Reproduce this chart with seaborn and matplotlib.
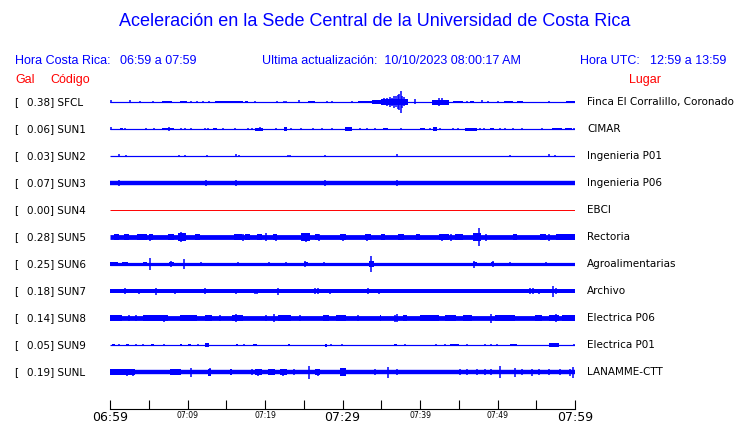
import pandas as pd
import matplotlib
matplotlib.use('Agg')
import matplotlib.pyplot as plt
import seaborn as sns

# ---------- DATOS ----------
gal = [0.38, 0.06, 0.03, 0.07, 0.00, 0.28, 0.25, 0.18, 0.14, 0.05, 0.19]
codigos = ['SFCL', 'SUN1', 'SUN2', 'SUN3', 'SUN4', 'SUN5', 'SUN6', 'SUN7', 'SUN8', 'SUN9', 'SUNL']
lugares = ['Finca El Corralillo, Coronado', 'CIMAR', 'Ingenieria P01', 'Ingenieria P06', 'EBCI',
           'Rectoria', 'Agroalimentarias', 'Archivo', 'Electrica P06', 'Electrica P01', 'LANAMME-CTT']

# media amplitud del ruido de fondo de cada traza (px)
ruido = [0.6, 0.6, 0.6, 2.2, 0.4, 2.4, 1.6, 2.0, 2.4, 0.6, 2.2]

# rafagas: (minuto inicio, minuto fin, media amplitud)
rafagas = {
    'SFCL': [(6.7, 8.0, 1.3), (9.0, 9.9, 1.3), (13.5, 17.1, 1.3), (17.4, 17.8, 1.0), (25.6, 26.5, 1.3),
             (32.0, 33.8, 1.3), (33.8, 35.0, 2.0), (35.0, 38.5, 3.0), (41.5, 43.7, 2.5), (44.3, 45.6, 1.0),
             (46.5, 47.0, 1.3), (50.8, 52.0, 1.3), (52.5, 53.3, 1.2), (58.9, 60.0, 1.3)],
    'SUN1': [(1.3, 1.7, 1.3), (6.7, 8.2, 1.2), (13.3, 13.8, 1.3), (18.7, 19.8, 1.5), (22.4, 22.9, 1.7),
             (30.3, 31.2, 1.8), (35.2, 35.9, 1.3), (40.0, 40.6, 1.3), (41.7, 42.2, 2.0), (45.8, 47.3, 1.5),
             (49.0, 49.5, 1.3), (57.0, 58.3, 1.3), (58.7, 59.6, 1.3)],
    'SUN2': [],
    'SUN3': [],
    'SUN4': [],
    'SUN5': [(0.5, 1.2, 3.0), (1.8, 2.5, 3.0), (3.5, 4.8, 3.0), (5.0, 5.6, 3.0), (7.5, 8.3, 3.0),
             (8.8, 9.8, 3.8), (11.0, 11.6, 3.0), (16.0, 17.0, 3.0), (17.4, 18.0, 3.0), (19.0, 19.6, 3.0),
             (21.0, 21.5, 3.0), (24.6, 25.8, 3.8), (26.5, 27.0, 3.0), (29.7, 30.4, 3.0), (32.9, 33.7, 3.0),
             (35.0, 35.5, 3.0), (37.1, 38.0, 3.0), (39.5, 40.0, 3.0), (42.4, 43.8, 3.0), (44.5, 45.6, 3.0),
             (46.9, 47.9, 4.0), (52.0, 52.5, 3.0), (55.5, 56.2, 3.0), (57.5, 60.0, 3.0)],
    'SUN6': [(0.0, 1.0, 2.0), (1.5, 2.3, 2.0), (4.2, 4.8, 1.8), (7.6, 8.2, 2.2), (25.0, 25.5, 2.2),
             (33.4, 34.0, 2.6), (46.8, 47.3, 2.2), (49.2, 49.6, 2.2)],
    'SUN7': [],
    'SUN8': [(0.0, 1.5, 3.3), (4.3, 7.5, 3.0), (9.0, 11.2, 3.0), (12.3, 13.1, 3.4), (15.7, 17.2, 3.2),
             (21.7, 23.4, 3.0), (27.5, 28.2, 3.3), (29.2, 30.5, 3.0), (34.8, 35.0, 3.2), (37.8, 38.3, 3.2),
             (40.0, 42.4, 3.0), (43.2, 44.7, 3.0), (45.6, 46.7, 3.4), (49.7, 52.3, 3.0), (54.8, 55.7, 3.0),
             (56.6, 57.9, 3.2), (58.3, 60.0, 3.2)],
    'SUN9': [(0.2, 0.6, 1.3), (2.0, 2.5, 1.3), (5.3, 5.7, 1.3), (9.0, 9.3, 1.2), (10.0, 10.5, 1.2),
             (12.3, 12.8, 1.8), (16.3, 16.5, 1.3), (18.5, 19.0, 1.3), (23.0, 23.2, 1.4), (27.7, 28.0, 1.5),
             (36.7, 37.0, 1.3), (43.9, 45.0, 1.2), (51.6, 52.5, 1.3), (56.6, 57.9, 1.6)],
    'SUNL': [(0.0, 3.2, 3.0), (7.7, 9.2, 2.8), (12.7, 13.0, 3.5), (15.5, 15.8, 3.0), (18.7, 19.6, 3.3),
             (20.4, 21.3, 3.3), (21.9, 22.8, 3.3), (26.4, 27.1, 3.4), (29.7, 30.4, 3.8)],
}

# picos: (minuto, media amplitud)
picos = {
    'SFCL': [(0.1, 1.5), (2.6, 1.5), (3.9, 1.0), (5.5, 1.0), (10.5, 1.0), (11.2, 1.0), (12.0, 1.0), (12.8, 1.0),
             (18.7, 1.2), (21.6, 1.0), (22.4, 1.2), (22.7, 1.0), (24.4, 1.5), (28.0, 1.0), (28.6, 1.0), (31.2, 1.3),
             (35.4, 3.5), (35.8, 4.0), (36.1, 5.0), (36.4, 4.0), (36.6, 6.0), (36.9, 5.5), (37.1, 7.0), (37.3, 8.0),
             (37.5, 11.0), (37.7, 6.0), (37.9, 4.5), (38.2, 3.0), (39.4, 2.5), (42.5, 4.0), (42.9, 3.5),
             (46.0, 1.3), (48.0, 1.5), (48.8, 1.0), (50.1, 1.0), (56.6, 1.0)],
    'SUN1': [(0.1, 1.5), (1.9, 1.2), (4.7, 1.0), (5.7, 1.0), (7.6, 1.6), (9.2, 1.0), (9.7, 1.0), (10.4, 1.0),
             (12.3, 1.0), (12.7, 1.0), (14.6, 1.0), (16.1, 1.2), (17.8, 1.0), (18.3, 1.0), (19.3, 2.2), (21.4, 1.0),
             (23.4, 1.0), (24.6, 1.0), (26.2, 1.0), (27.3, 1.0), (28.7, 1.0), (32.3, 1.0), (33.2, 1.0), (34.2, 1.0),
             (37.6, 1.0), (41.3, 1.0), (42.6, 1.0), (44.3, 1.0), (44.9, 1.2), (47.7, 1.0), (48.2, 1.0), (50.3, 1.0),
             (51.0, 1.0), (52.0, 1.0), (53.1, 1.0), (55.7, 1.0), (59.9, 1.3)],
    'SUN2': [(1.1, 1.5), (2.0, 1.0), (8.9, 1.0), (9.7, 1.3), (12.5, 1.3), (16.3, 1.5), (16.6, 1.0), (23.0, 1.3),
             (23.2, 1.3), (27.7, 1.3), (37.0, 1.5), (51.6, 1.3), (56.6, 1.5), (57.4, 1.3)],
    'SUN3': [(1.1, 3.0), (12.4, 2.7), (16.3, 2.7), (27.7, 3.0), (37.0, 3.0)],
    'SUN4': [],
    'SUN5': [(5.2, 3.5), (9.2, 5.0), (17.2, 3.5), (20.1, 4.0), (21.4, 3.5), (25.3, 4.5), (27.0, 3.5),
             (30.1, 3.5), (33.2, 3.5), (42.8, 3.5), (44.0, 3.5), (47.6, 9.0), (48.5, 3.5), (56.6, 3.5)],
    'SUN6': [(0.6, 2.2), (1.8, 2.2), (5.1, 6.0), (7.9, 3.0), (9.5, 5.0), (11.7, 2.2), (16.5, 2.2), (20.5, 2.2),
             (22.7, 2.2), (25.1, 2.8), (27.6, 2.2), (33.7, 8.0), (47.0, 3.5), (49.4, 2.8), (51.6, 2.2), (56.2, 2.2)],
    'SUN7': [(1.9, 2.7), (3.7, 2.5), (5.9, 3.5), (8.4, 2.5), (12.3, 2.8), (16.3, 2.5), (18.7, 2.5), (19.0, 2.5),
             (21.7, 3.5), (26.5, 2.8), (26.8, 2.8), (28.4, 2.5), (33.3, 2.7), (34.7, 2.5), (54.2, 2.8), (54.6, 2.7),
             (55.3, 2.5), (57.2, 5.5), (57.6, 3.0)],
    'SUN8': [(2.4, 3.2), (3.4, 3.0), (7.0, 3.5), (14.2, 3.0), (16.3, 4.0), (20.1, 3.0), (21.1, 4.0), (24.5, 3.0),
             (32.0, 3.2), (36.8, 3.5), (37.0, 4.0), (49.2, 4.5), (57.6, 4.0)],
    'SUN9': [(1.1, 1.2), (3.3, 1.2), (4.3, 1.0), (7.0, 1.0), (11.3, 1.0), (17.3, 1.2), (28.5, 1.3), (29.9, 1.3),
             (38.1, 1.2), (42.1, 1.0), (43.2, 1.1), (46.0, 1.0), (48.4, 1.1), (49.2, 1.1), (49.9, 1.0), (59.9, 1.3)],
    'SUNL': [(2.2, 3.5), (3.0, 3.5), (10.4, 4.5), (12.9, 4.0), (18.3, 2.8), (19.1, 3.5), (22.3, 3.5), (23.7, 3.0),
             (25.7, 6.5), (26.8, 3.5), (30.0, 4.0), (34.2, 2.8), (35.9, 5.5), (37.0, 3.0), (45.2, 3.0), (46.0, 2.8),
             (47.3, 2.8), (48.4, 2.8), (49.2, 3.0), (50.3, 6.0), (52.3, 4.5), (53.1, 3.0), (54.4, 3.5), (55.3, 3.0),
             (56.6, 2.8), (58.1, 2.8), (59.3, 3.5), (59.8, 5.5)],
}

ticks_min = list(range(0, 61, 5))
ticks_lbl = ['06:59', '', '07:09', '', '07:19', '', '07:29', '', '07:39', '', '07:49', '', '07:59']

# ---------- ESTILO ----------
sns.set_style('white')
AZUL = '#0000ff'
W, H = 740, 423

fig = plt.figure(figsize=(W / 100, H / 100), dpi=100)
# eje en coordenadas de pixel verticales (y hacia abajo)
ax = fig.add_axes([110 / W, (H - 409) / H, 465 / W, (409 - 88) / H])
ax.set_xlim(0, 60)
ax.set_ylim(409, 88)

filas = [102 + 27 * i for i in range(len(codigos))]

# linea base de cada estacion
base = pd.DataFrame({
    'minuto': [0, 60] * len(codigos),
    'y': [f for f in filas for _ in range(2)],
    'codigo': [c for c in codigos for _ in range(2)],
})
colores = {c: ('red' if c == 'SUN4' else AZUL) for c in codigos}
grosor = {c: max(2 * r * 0.72, 0.7) for c, r in zip(codigos, ruido)}
sns.lineplot(data=base, x='minuto', y='y', hue='codigo', size='codigo', palette=colores,
             sizes=grosor, estimator=None, legend=False, ax=ax, solid_capstyle='butt')

for c, yf in zip(codigos, filas):
    for t0, t1, a in rafagas[c]:
        ax.bar((t0 + t1) / 2, 2 * a, bottom=yf - a, width=t1 - t0, color=AZUL, linewidth=0)
    if picos[c]:
        ts = [p[0] for p in picos[c]]
        amps = [p[1] for p in picos[c]]
        ax.vlines(ts, [yf - a for a in amps], [yf + a for a in amps], color=AZUL, linewidth=1.1)

# eje de tiempo
for s in ['top', 'left', 'right']:
    ax.spines[s].set_visible(False)
ax.spines['bottom'].set_color('black')
ax.spines['bottom'].set_linewidth(0.8)
ax.set_yticks([])
ax.set_xticks(ticks_min)
ax.set_xticklabels(ticks_lbl)
ax.tick_params(axis='x', direction='in', length=6.5, width=0.8, color='black', labelcolor='black',
               pad=1.5, bottom=True)
for lbl in ax.get_xticklabels():
    if lbl.get_text() in ('06:59', '07:29', '07:59'):
        lbl.set_fontsize(9)
    else:
        lbl.set_fontsize(5.5)
ax.set_xlabel('')
ax.set_ylabel('')


def px(x, y):
    return x / W, 1 - y / H


# ---------- TEXTOS ----------
cab = dict(family='Liberation Sans', color=AZUL, va='center')
fig.text(*px(375, 22), 'Aceleración en la Sede Central de la Universidad de Costa Rica',
         ha='center', fontsize=13, **cab)
fig.text(*px(15, 61), 'Hora Costa Rica:', ha='left', fontsize=9, **cab)
fig.text(*px(120, 61), '06:59 a 07:59', ha='left', fontsize=9, **cab)
fig.text(*px(262, 61), 'Ultima actualización:  10/10/2023 08:00:17 AM', ha='left', fontsize=9, **cab)
fig.text(*px(580, 61), 'Hora UTC:', ha='left', fontsize=9, **cab)
fig.text(*px(650, 61), '12:59 a 13:59', ha='left', fontsize=9, **cab)

roj = dict(family='Liberation Sans', color='red', va='center', fontsize=9)
fig.text(*px(15, 80), 'Gal', ha='left', **roj)
fig.text(*px(50, 80), 'Código', ha='left', **roj)
fig.text(*px(661, 80), 'Lugar', ha='right', **roj)

etq = dict(va='center', fontsize=7.5, family='DejaVu Sans', color='black')
for g, c, l, yf in zip(gal, codigos, lugares, filas):
    fig.text(*px(14, yf), '[', ha='left', **etq)
    fig.text(*px(27, yf), f'{g:.2f}] {c}', ha='left', **etq)
    fig.text(*px(587, yf), l, ha='left', **etq)

fig.savefig('out.png', dpi=100, facecolor='white')
